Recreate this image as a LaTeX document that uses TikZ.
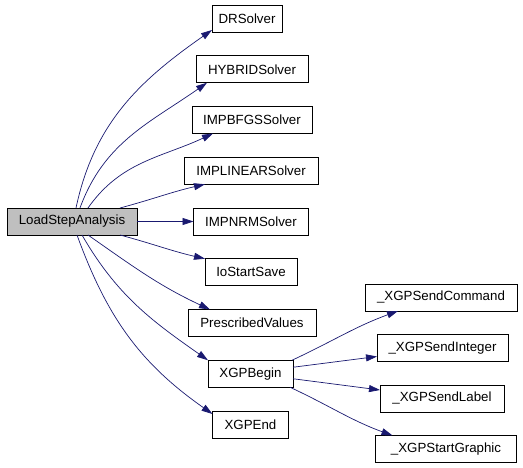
\documentclass[tikz,border=0pt]{standalone}
\usepackage{fontspec}
\setmainfont{Liberation Sans}
\usetikzlibrary{arrows.meta, positioning}
\definecolor{edgeblue}{RGB}{25,25,112}
\definecolor{boxgray}{RGB}{191,191,191}

\begin{document}
\begin{tikzpicture}[
        x=1pt, y=1pt,
        node distance=23.75pt and 2cm,
        fn/.style={rectangle, draw=black, line width=0.8pt, fill=white, minimum height=27pt, inner sep=0pt, outer sep=0pt, font=\fontsize{13.3}{16}\selectfont},
        call/.style={-{Triangle[length=11pt, width=7pt]}, draw=edgeblue, line width=0.7pt}
    ]
        \useasboundingbox (0,0) rectangle (523,-468);
        % Nodes
        \node[fn, fill=boxgray, minimum width=130pt] (lsa) at (72,-221.5) {LoadStepAnalysis};
        
        \node[fn, minimum width=70pt] (dr) at (247,-18.5) {DRSolver};
        \node[fn, minimum width=112pt, below=of dr, xshift=5pt] (hybrid) {HYBRIDSolver};
        \node[fn, minimum width=120pt, below=of hybrid] (bfgs) {IMPBFGSSolver};
        \node[fn, minimum width=134pt, below=of bfgs, xshift=-1pt] (linear) {IMPLINEARSolver};
        \node[fn, minimum width=115pt, below=of linear] (nrm) {IMPNRMSolver};
        \node[fn, minimum width=92pt, below=of nrm] (iosave) {IoStartSave};
        \node[fn, minimum width=128pt, below=of iosave, xshift=1pt] (presc) {PrescribedValues};
        \node[fn, minimum width=85pt, below=of presc, xshift=-1.5pt] (xbegin) {XGPBegin};
        \node[fn, minimum width=76pt, below=of xbegin] (xend) {XGPEnd};
        
        \node[fn, minimum width=152pt] (sendcmd) at (441,-297.5) {\_XGPSendCommand};
        \node[fn, minimum width=131pt, below=23.5pt of sendcmd, xshift=1.5pt] (sendint) {\_XGPSendInteger};
        \node[fn, minimum width=124pt, below=23.5pt of sendint, xshift=-0.5pt] (sendlabel) {\_XGPSendLabel};
        \node[fn, minimum width=141pt, below=23.5pt of sendlabel, xshift=4pt] (startgr) {\_XGPStartGraphic};
        
        % Arrows
        \draw[call] ([xshift=4pt]lsa.north) to[out=78, in=215] ([yshift=2pt]dr.south west);
        \draw[call] ([xshift=8pt]lsa.north) to[out=70, in=215] ([xshift=11pt]hybrid.south west);
        \draw[call] ([xshift=16pt]lsa.north) to[out=55, in=205] ([xshift=21pt]bfgs.south west);
        \draw[call] ([xshift=48pt]lsa.north) to[out=15, in=193] ([xshift=21pt]linear.south west);
        \draw[call] (lsa) -- (nrm);
        \draw[call] ([xshift=48pt]lsa.south) to[out=-15, in=167] (iosave.north west);
        \draw[call] ([xshift=16pt]lsa.south) to[out=-35, in=155] ([xshift=22pt]presc.north west);
        \draw[call] ([xshift=10pt]lsa.south) to[out=-60, in=145] (xbegin.north west);
        \draw[call] ([xshift=5pt]lsa.south) to[out=-70, in=145] ([yshift=-3pt]xend.north west);
        
        \draw[call] ([xshift=-1pt]xbegin.north east) to[out=25, in=200] ([xshift=33pt]sendcmd.south west);
        \draw[call] ([yshift=-7pt]xbegin.north east) -- ([yshift=5pt]sendint.south west);
        \draw[call] ([yshift=-5pt]xbegin.east) -- ([yshift=-5pt]sendlabel.north west);
        \draw[call] ([xshift=-3pt]xbegin.south east) to[out=-25, in=160] ([xshift=17pt]startgr.north west);
    \end{tikzpicture}
\end{document}
